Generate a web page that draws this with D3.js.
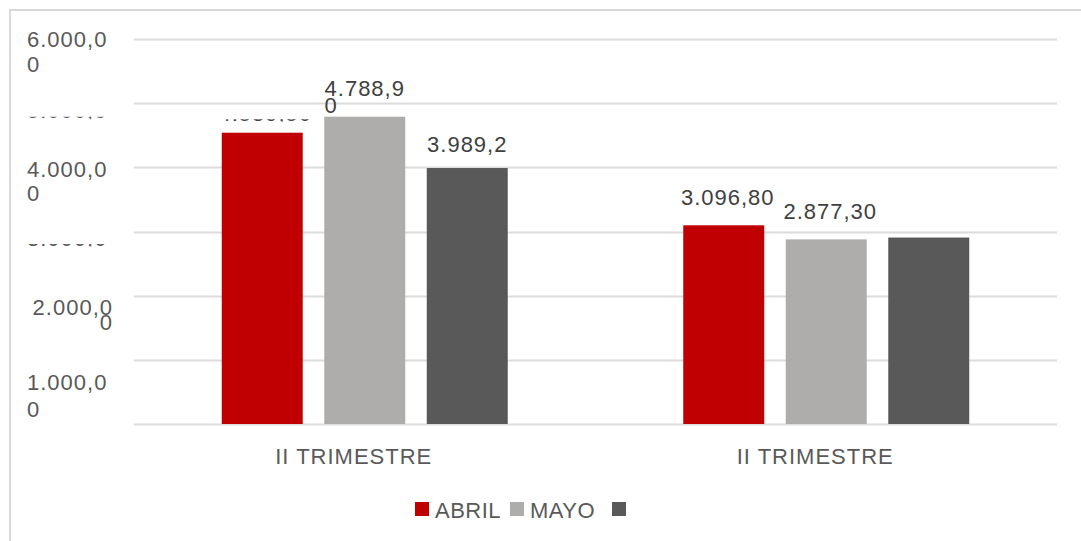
<!DOCTYPE html>
<html>
<head>
<meta charset="utf-8">
<script src="https://cdn.jsdelivr.net/npm/d3@7"></script>
<style>
  body { margin: 0; background: #fff; }
  svg { display: block; font-family: "Liberation Sans", Arial, sans-serif; }
</style>
</head>
<body>
<svg width="1081" height="541"></svg>
<script>
// -------------------- DATA --------------------
const categories = ["II TRIMESTRE", "II TRIMESTRE"];
const seriesNames = ["ABRIL", "MAYO", ""];
const abril = [4539.5, 3096.8];
const mayo = [4788.9, 2877.3];
const tercero = [3989.2, 2906.0];
const yTicks = [0, 1000, 2000, 3000, 4000, 5000, 6000];

const seriesValues = [abril, mayo, tercero];
const colors = ["#c00000", "#aeadac", "#595959"];

// how each y tick label got rendered in the original (wrapped / clipped / hidden)
const tickLayout = {
  0: { mode: "none" },
  1000: { mode: "wrap", anchor: "start", dy: 30.5, gap: 26.5 },
  2000: { mode: "wrap", anchor: "end", dy: 19, gap: 15.5 },
  3000: { mode: "clip", dy: 14 },
  4000: { mode: "wrap", anchor: "start", dy: 9.5, gap: 24.5 },
  5000: { mode: "clip", dy: 15 },
  6000: { mode: "wrap", anchor: "start", dy: 7.5, gap: 25.5 }
};
// data label rendering per [series][category]
const labelLayout = [
  ["clip", "full"],
  ["wrap", "full"],
  ["trunc", "none"]
];

// -------------------- SETUP --------------------
const svg = d3.select("svg");
const fmt = d3.formatLocale({ decimal: ",", thousands: ".", grouping: [3], currency: ["", ""] }).format(",.2f");
const plot = { left: 134, right: 1057, top: 39, bottom: 424 };

const y = d3.scaleLinear().domain([0, 6000]).range([plot.bottom, plot.top]);
const x0 = d3.scaleBand().domain(d3.range(categories.length)).range([plot.left, plot.right]);
const x1 = d3.scaleBand().domain(d3.range(seriesNames.length)).range([0, x0.bandwidth()])
  .paddingInner(0.21).paddingOuter(0.856);

// chart border
svg.append("rect")
  .attr("x", 10).attr("y", 10).attr("width", 1100).attr("height", 600)
  .attr("fill", "none").attr("stroke", "#d9d9d9").attr("stroke-width", 2);

const defs = svg.append("defs");
let clipId = 0;
function clipBand(y0, y1) {
  const id = "clip" + (clipId++);
  defs.append("clipPath").attr("id", id)
    .append("rect").attr("x", 0).attr("y", y0).attr("width", 1081).attr("height", y1 - y0);
  return "url(#" + id + ")";
}

// -------------------- GRIDLINES --------------------
svg.append("g").selectAll("line")
  .data(yTicks)
  .enter().append("line")
  .attr("x1", plot.left).attr("x2", plot.right)
  .attr("y1", d => Math.round(y(d)) + 0.5).attr("y2", d => Math.round(y(d)) + 0.5)
  .attr("stroke", "#dcdcdc").attr("stroke-width", 2);

// -------------------- Y LABELS --------------------
const yLab = svg.append("g")
  .style("font-size", "22px").style("letter-spacing", "1px").attr("fill", "#595959");

yTicks.forEach(t => {
  const lay = tickLayout[t];
  const full = fmt(t);
  const base = y(t) + lay.dy;
  if (lay.mode === "wrap") {
    const xa = lay.anchor === "end" ? 113 : 27;
    yLab.append("text").attr("x", xa).attr("y", base).attr("text-anchor", lay.anchor)
      .text(full.slice(0, -1));
    yLab.append("text").attr("x", xa).attr("y", base + lay.gap).attr("text-anchor", lay.anchor)
      .text(full.slice(-1));
  } else if (lay.mode === "clip") {
    yLab.append("text").attr("x", 27).attr("y", base)
      .attr("clip-path", clipBand(base - 1.5, base + 1))
      .text(full.slice(0, -1));
  }
});

// -------------------- BARS --------------------
const groups = svg.append("g").selectAll("g")
  .data(categories)
  .enter().append("g")
  .attr("transform", (d, i) => `translate(${x0(i)},0)`);

groups.selectAll("rect")
  .data((d, i) => seriesValues.map((s, k) => ({ k: k, i: i, v: s[i] })))
  .enter().append("rect")
  .attr("x", d => x1(d.k))
  .attr("width", x1.bandwidth())
  .attr("y", d => y(d.v))
  .attr("height", d => y(0) - y(d.v))
  .attr("fill", d => colors[d.k]);

// -------------------- DATA LABELS --------------------
const dLab = svg.append("g")
  .style("font-size", "22px").style("letter-spacing", "1px").attr("fill", "#404040");

seriesValues.forEach((s, k) => {
  s.forEach((v, i) => {
    const mode = labelLayout[k][i];
    if (mode === "none") return;
    const cx = x0(i) + x1(k) + x1.bandwidth() / 2;
    const top = y(v);
    const full = fmt(v);
    if (mode === "full") {
      dLab.append("text").attr("x", cx + 4).attr("y", top - 20)
        .attr("text-anchor", "middle").text(full);
    } else if (mode === "trunc") {
      dLab.append("text").attr("x", cx).attr("y", top - 16.5)
        .attr("text-anchor", "middle").text(full.slice(0, -1));
    } else if (mode === "wrap") {
      const t1 = dLab.append("text").attr("x", cx).attr("y", top - 21)
        .attr("text-anchor", "middle").text(full.slice(0, -1));
      const w = t1.node().getComputedTextLength();
      dLab.append("text").attr("x", cx - w / 2).attr("y", top - 4)
        .text(full.slice(-1));
    } else if (mode === "clip") {
      const b = top - 12;
      dLab.append("text").attr("x", cx + 3).attr("y", b)
        .attr("text-anchor", "middle")
        .attr("clip-path", clipBand(b - 1.5, b + 1))
        .text(full);
    }
  });
});

// -------------------- X LABELS --------------------
svg.append("g").selectAll("text")
  .data(categories)
  .enter().append("text")
  .attr("x", (d, i) => x0(i) + x0.bandwidth() / 2 - 11)
  .attr("y", 464)
  .attr("text-anchor", "middle")
  .style("font-size", "22px").style("letter-spacing", "1px")
  .attr("fill", "#595959")
  .text(d => d);

// -------------------- LEGEND --------------------
const legendX = [415, 510, 612];
const legend = svg.append("g").selectAll("g")
  .data(seriesNames)
  .enter().append("g")
  .attr("transform", (d, i) => `translate(${legendX[i]},502)`);

legend.append("rect")
  .attr("width", 14).attr("height", 14)
  .attr("fill", (d, i) => colors[i]);

legend.append("text")
  .attr("x", 20).attr("y", 16)
  .style("font-size", "22px").style("letter-spacing", "0.5px")
  .attr("fill", "#595959")
  .text(d => d);
</script>
</body>
</html>
